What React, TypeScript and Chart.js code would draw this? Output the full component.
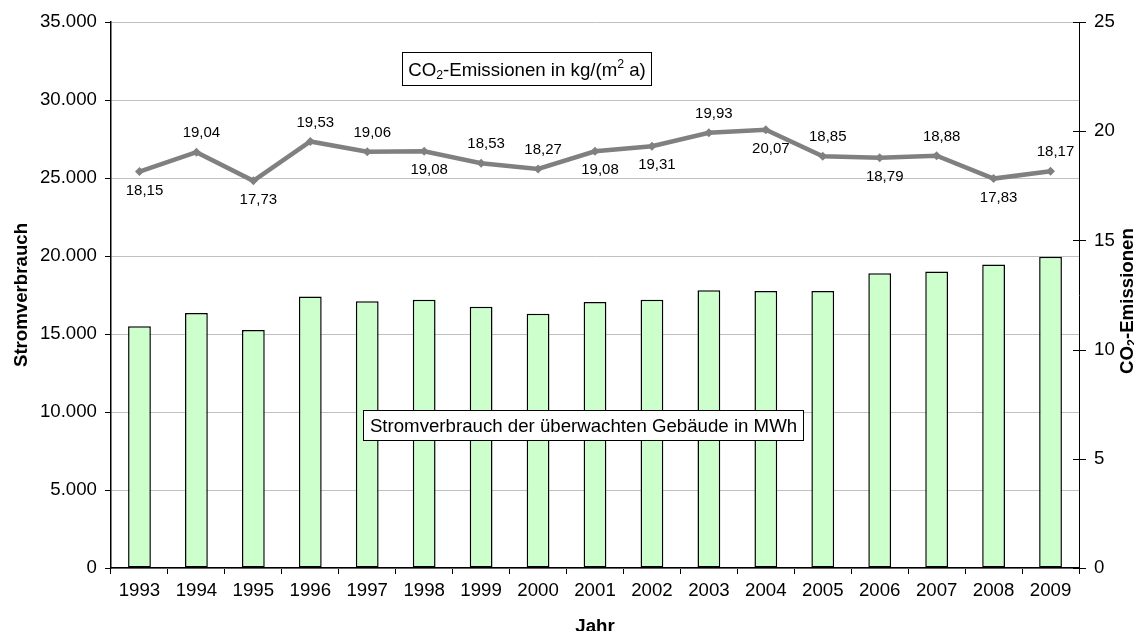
import React, { useEffect, useRef } from "react";
import { Chart, registerables } from "chart.js";

Chart.register(...registerables);

const FONT = '"Liberation Sans", Arial, sans-serif';

const years = ["1993", "1994", "1995", "1996", "1997", "1998", "1999", "2000", "2001", "2002", "2003", "2004", "2005", "2006", "2007", "2008", "2009"];
const stromverbrauch = [15500, 16350, 15250, 17400, 17100, 17200, 16750, 16300, 17050, 17200, 17800, 17750, 17750, 18900, 19000, 19450, 19950];
const co2 = [18.15, 19.04, 17.73, 19.53, 19.06, 19.08, 18.53, 18.27, 19.08, 19.31, 19.93, 20.07, 18.85, 18.79, 18.88, 17.83, 18.17];
const labelPlacement = ["below", "above", "below", "above", "above", "below", "above", "above", "below", "below", "above", "below", "above", "below", "above", "below", "above"];

const leftTicksMax = 35000;
const rightTicksMax = 25;

const fmtThousands = (v: number) => String(Math.round(v)).replace(/\B(?=(\d{3})+(?!\d))/g, ".");
const fmtDec = (v: number) => v.toFixed(2).replace(".", ",");

type Part = { t: string; sub?: boolean; sup?: boolean };

function drawRich(ctx: CanvasRenderingContext2D, parts: Part[], x: number, y: number, size: number, bold: boolean) {
  const w = bold ? "bold " : "";
  const small = size * 0.66;
  const widths = parts.map((p) => {
    ctx.font = `${w}${p.sub || p.sup ? small : size}px ${FONT}`;
    return ctx.measureText(p.t).width;
  });
  const total = widths.reduce((a, b) => a + b, 0);
  let cx = x - total / 2;
  ctx.textAlign = "left";
  ctx.textBaseline = "alphabetic";
  parts.forEach((p, i) => {
    ctx.font = `${w}${p.sub || p.sup ? small : size}px ${FONT}`;
    const dy = p.sub ? size * 0.2 : p.sup ? -size * 0.38 : 0;
    ctx.fillText(p.t, cx, y + dy);
    cx += widths[i];
  });
}

const overlayPlugin = {
  id: "overlay",
  afterDatasetsDraw(chart: any) {
    const ctx: CanvasRenderingContext2D = chart.ctx;
    ctx.save();
    const meta = chart.getDatasetMeta(1);
    ctx.font = `15px ${FONT}`;
    ctx.fillStyle = "#000";
    ctx.textAlign = "center";
    ctx.textBaseline = "middle";
    meta.data.forEach((pt: any, i: number) => {
      const dy = labelPlacement[i] === "above" ? -19 : 19;
      ctx.fillText(fmtDec(co2[i]), pt.x + 5, pt.y + dy);
    });

    const boxes = [
      { x: 402, y: 52, w: 249, h: 33, parts: [{ t: "CO" }, { t: "2", sub: true }, { t: "-Emissionen in kg/(m" }, { t: "2", sup: true }, { t: " a)" }] as Part[] },
      { x: 363, y: 410, w: 440, h: 30, parts: [{ t: "Stromverbrauch der überwachten Gebäude in MWh" }] as Part[] },
    ];
    boxes.forEach((b) => {
      ctx.fillStyle = "#fff";
      ctx.fillRect(b.x, b.y, b.w, b.h);
      ctx.strokeStyle = "#000";
      ctx.lineWidth = 1;
      ctx.strokeRect(b.x + 0.5, b.y + 0.5, b.w, b.h);
      ctx.fillStyle = "#000";
      drawRich(ctx, b.parts, b.x + b.w / 2 + 0.5, b.y + b.h / 2 + 7, 18.67, false);
    });
    ctx.restore();
  },
  afterDraw(chart: any) {
    const ctx: CanvasRenderingContext2D = chart.ctx;
    const area = chart.chartArea;
    const y1 = chart.scales.y1;
    ctx.save();
    ctx.strokeStyle = "#000";
    ctx.lineWidth = 1;
    y1.ticks.forEach((t: any) => {
      const py = Math.round(y1.getPixelForValue(t.value)) + 0.5;
      ctx.beginPath();
      ctx.moveTo(area.right - 6, py);
      ctx.lineTo(area.right + 7, py);
      ctx.stroke();
    });
    const midY = (area.top + area.bottom) / 2;
    ctx.fillStyle = "#000";
    ctx.save();
    ctx.translate(26.5, midY);
    ctx.rotate(-Math.PI / 2);
    drawRich(ctx, [{ t: "Stromverbrauch" }], 0, 0, 18.67, true);
    ctx.restore();
    ctx.save();
    ctx.translate(1132.5, midY + 6);
    ctx.rotate(-Math.PI / 2);
    drawRich(ctx, [{ t: "CO" }, { t: "2", sub: true }, { t: "-Emissionen" }], 0, 0, 18.67, true);
    ctx.restore();
    drawRich(ctx, [{ t: "Jahr" }], (area.left + area.right) / 2, 631.5, 18.67, true);
    ctx.restore();
  },
};

export default function App() {
  const ref = useRef<HTMLCanvasElement | null>(null);
  useEffect(() => {
    if (!ref.current) return;
    Chart.defaults.font.family = FONT;
    const chart = new Chart(ref.current, {
      type: "bar",
      data: {
        labels: years,
        datasets: [
          {
            type: "bar",
            label: "Stromverbrauch",
            data: stromverbrauch,
            yAxisID: "y",
            backgroundColor: "#ccffcc",
            borderColor: "#000000",
            borderWidth: 1.5,
            borderSkipped: false,
            barPercentage: 0.4,
            categoryPercentage: 1,
            order: 2,
          },
          {
            type: "line",
            label: "CO2-Emissionen",
            data: co2,
            yAxisID: "y1",
            borderColor: "#808080",
            backgroundColor: "#808080",
            borderWidth: 4.5,
            pointStyle: "rectRot",
            pointRadius: 4.5,
            pointBorderWidth: 0,
            pointBackgroundColor: "#808080",
            tension: 0,
            order: 1,
          },
        ],
      } as any,
      plugins: [overlayPlugin],
      options: {
        animation: false,
        responsive: true,
        maintainAspectRatio: false,
        layout: { padding: { top: 22, left: 0, right: 0, bottom: 0 } },
        plugins: {
          legend: { display: false },
          tooltip: { enabled: false },
          title: { display: false },
        },
        scales: {
          x: {
            offset: true,
            grid: { offset: true, drawOnChartArea: false, drawTicks: true, tickLength: 6, tickColor: "#000" },
            border: { display: true, color: "#000", width: 1.5 },
            ticks: { color: "#000", font: { size: 18.67, family: FONT }, padding: 6, maxRotation: 0, autoSkip: false },
            afterFit: (s: any) => { s.height = 63; s.paddingLeft = 0; s.paddingRight = 0; },
          },
          y: {
            position: "left",
            min: 0,
            max: leftTicksMax,
            ticks: { stepSize: 5000, color: "#000", font: { size: 18.67, family: FONT }, padding: 8, callback: (v: any) => fmtThousands(Number(v)) },
            grid: { color: "#c0c0c0", lineWidth: 1, tickLength: 6, tickColor: "#000" },
            border: { display: true, color: "#000", width: 1.5 },
            afterFit: (s: any) => { s.width = 111; s.paddingTop = 0; s.paddingBottom = 0; },
          },
          y1: {
            position: "right",
            min: 0,
            max: rightTicksMax,
            ticks: { stepSize: 5, color: "#000", font: { size: 18.67, family: FONT }, padding: 15 },
            grid: { display: true, drawOnChartArea: false, drawTicks: false },
            border: { display: true, color: "#000", width: 1 },
            afterFit: (s: any) => { s.width = 55; s.paddingTop = 0; s.paddingBottom = 0; },
          },
        },
      } as any,
    });
    return () => chart.destroy();
  }, []);
  return (
    <div style={{ position: "absolute", left: 0, top: 0, width: 1134, height: 631, background: "#fff" }}>
      <canvas ref={ref} />
    </div>
  );
}
